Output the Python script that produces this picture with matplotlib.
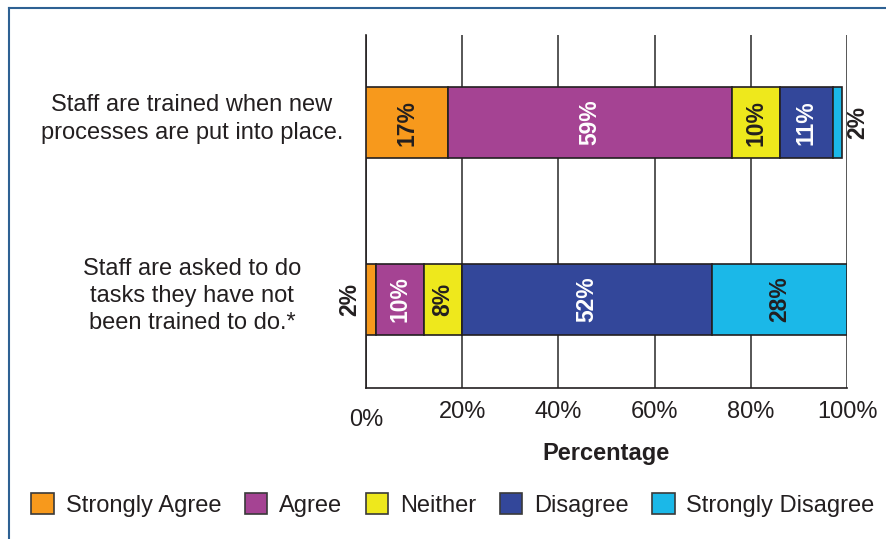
import numpy as np
import matplotlib.pyplot as plt
from matplotlib.patches import Patch
from matplotlib.lines import Line2D

plt.rcParams['font.family'] = ['Liberation Sans', 'DejaVu Sans']

statements = [
    'Staff are trained when new\nprocesses are put into place.',
    'Staff are asked to do\ntasks they have not\nbeen trained to do.*',
]
responses = ['Strongly Agree', 'Agree', 'Neither', 'Disagree', 'Strongly Disagree']
colors = ['#F7991C', '#A54393', '#EEE81C', '#33479A', '#1BB8E8']
label_colors = ['#231F20', 'white', '#231F20', 'white', '#231F20']

# percentages per statement, in the order of responses
trained_new = [17, 59, 10, 11, 2]
asked_untrained = [2, 10, 8, 52, 28]
values = np.array([trained_new, asked_untrained])

ticks = [0, 20, 40, 60, 80, 100]
tick_labels = ['0%', '20%', '40%', '60%', '80%', '100%']

dark = '#231F20'

fig = plt.figure(figsize=(8.86, 5.39), dpi=100)
ax = fig.add_axes([366 / 886, 1 - 388 / 539, 481 / 886, 353 / 539])

ypos = np.arange(len(statements))
left = np.zeros(len(statements))
for j, resp in enumerate(responses):
    ax.barh(ypos, values[:, j], left=left, height=0.4, color=colors[j],
            edgecolor=dark, linewidth=1.2, zorder=3)
    for i in range(len(statements)):
        v = values[i, j]
        if v <= 2:
            # too thin for an inside label, put it beside the bar
            if j == 0:
                ax.annotate(f'{v}%', (left[i], ypos[i]), xytext=(-11.5, 0),
                            textcoords='offset points', rotation=90,
                            ha='center', va='center', fontsize=16.5,
                            fontweight='bold', color=dark)
            else:
                ax.annotate(f'{v}%', (left[i] + v, ypos[i]), xytext=(11.5, 0),
                            textcoords='offset points', rotation=90,
                            ha='center', va='center', fontsize=16.5,
                            fontweight='bold', color=dark)
        else:
            ax.text(left[i] + v / 2, ypos[i], f'{v}%', rotation=90,
                    ha='center', va='center', fontsize=16.5,
                    fontweight='bold', color=label_colors[j], zorder=4)
    left = left + values[:, j]

for i, s in enumerate(statements):
    ax.text(-0.362, ypos[i] - 0.02, s, transform=ax.get_yaxis_transform(),
            ha='center', va='center', fontsize=17, color=dark,
            linespacing=1.32)

ax.set_xlim(0, 100)
ax.set_ylim(1.5, -0.495)
ax.set_yticks([])
ax.set_xticks(ticks)
ax.set_xticklabels(tick_labels, fontsize=17, color=dark)
ax.tick_params(axis='x', length=0, pad=9)
ax.xaxis.get_major_ticks()[0].set_pad(15)
ax.grid(axis='x', color='#3a3a3a', linewidth=1.2, zorder=0)
for side in ['top', 'right']:
    ax.spines[side].set_visible(False)
for side in ['left', 'bottom']:
    ax.spines[side].set_color(dark)
    ax.spines[side].set_linewidth(1.2)
ax.set_xlabel('Percentage', fontsize=17, fontweight='bold', color=dark,
              labelpad=8)

handles = [Patch(facecolor=c, edgecolor='#3a3a3a', linewidth=1.2) for c in colors]
fig.legend(handles, responses, loc='center', bbox_to_anchor=(453 / 886, 1 - 505 / 539),
           ncol=5, frameon=False, fontsize=17, handlelength=0.95,
           handleheight=0.95, handletextpad=0.5, columnspacing=1.0,
           labelcolor=dark)

# outer frame lines
fig.add_artist(Line2D([9 / 886, 1], [1 - 8 / 539, 1 - 8 / 539],
                      transform=fig.transFigure, color='#2E6193', linewidth=1.5))
fig.add_artist(Line2D([9 / 886, 9 / 886], [0, 1 - 8 / 539],
                      transform=fig.transFigure, color='#2E6193', linewidth=1.5))

fig.savefig('out.png', dpi=100)
